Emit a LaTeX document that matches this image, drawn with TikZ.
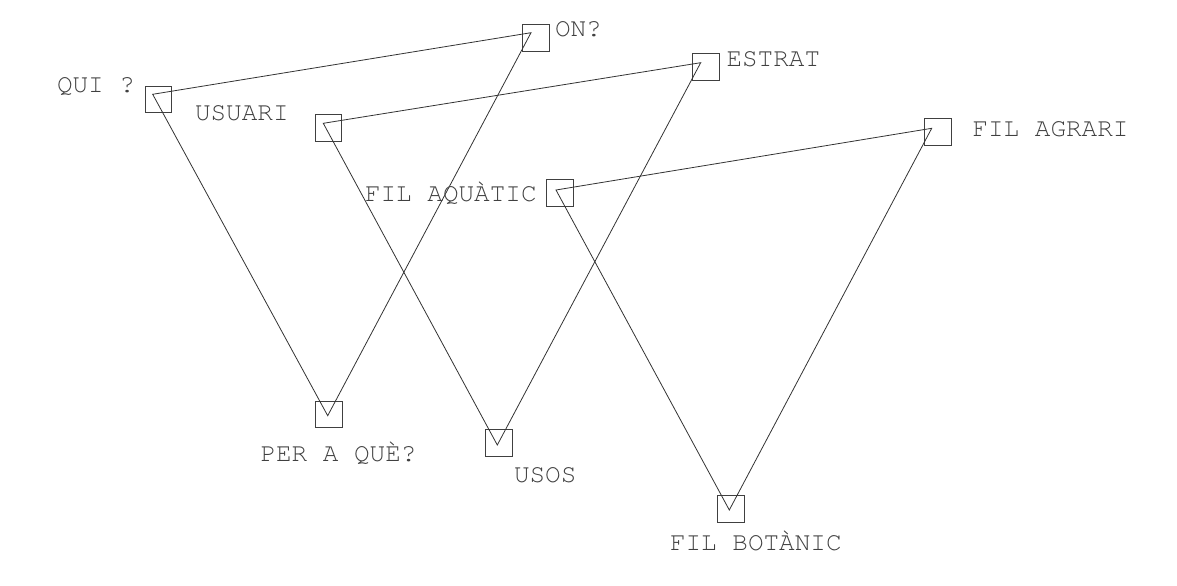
\documentclass[tikz,border=0pt]{standalone}
\usepackage{fontspec}
\setmonofont{texgyrecursor-regular.otf}
\begin{document}
\begin{tikzpicture}[x=0.75pt,y=-0.75pt,
  sq/.style={draw=black!75, line width=0.75pt, minimum width=20pt, minimum height=20pt, inner sep=0pt, outer sep=0pt},
  lbl/.style={anchor=base west, inner sep=0pt, outer sep=0pt, font=\ttfamily\fontsize{19.5}{23}\selectfont, text=black!75},
  link/.style={draw=black!80, line width=0.6pt}
]
\useasboundingbox (0,0) rectangle (1177,585);
% squares
\node[sq] (qui) at (158.5,99.5) {};
\node[sq] (on) at (536.2,37.8) {};
\node[sq] (per) at (328.8,414.5) {};
\node[sq] (usu) at (328.5,127.8) {};
\node[sq] (est) at (706.3,67) {};
\node[sq] (usos) at (499.2,443.3) {};
\node[sq] (aqu) at (560,193.3) {};
\node[sq] (agr) at (938.3,132) {};
\node[sq] (bot) at (730.7,508.8) {};
% line vertices inside the squares
\coordinate (quiv) at (152.7,94.3);
\coordinate (onv) at (531,32.7);
\coordinate (perv) at (327.7,415.7);
\coordinate (usuv) at (323.3,123.3);
\coordinate (estv) at (700.7,62.7);
\coordinate (usosv) at (497.3,445);
\coordinate (aquv) at (556,190);
\coordinate (agrv) at (931.7,128.3);
\coordinate (botv) at (729.3,510);
% triangles
\draw[link] (quiv) -- (onv) -- (perv) -- cycle;
\draw[link] (usuv) -- (estv) -- (usosv) -- cycle;
\draw[link] (aquv) -- (agrv) -- (botv) -- cycle;
% labels
\node[lbl] (lqui) at (57,93) {QUI ?};
\node[lbl] (lon) at (555,37) {ON?};
\node[lbl] (lusu) at (195,120.7) {USUARI};
\node[lbl] (lest) at (726.5,66) {ESTRAT};
\node[lbl] (laqu) at (365,201.7) {FIL AQUÀTIC};
\node[lbl] (lagr) at (972.5,136) {FIL AGRARI};
\node[lbl] (lper) at (260.5,461) {PER A QUÈ?};
\node[lbl] (lusos) at (514,482.3) {USOS};
\node[lbl] (lbot) at (670,550) {FIL BOTÀNIC};
\end{tikzpicture}
\end{document}
